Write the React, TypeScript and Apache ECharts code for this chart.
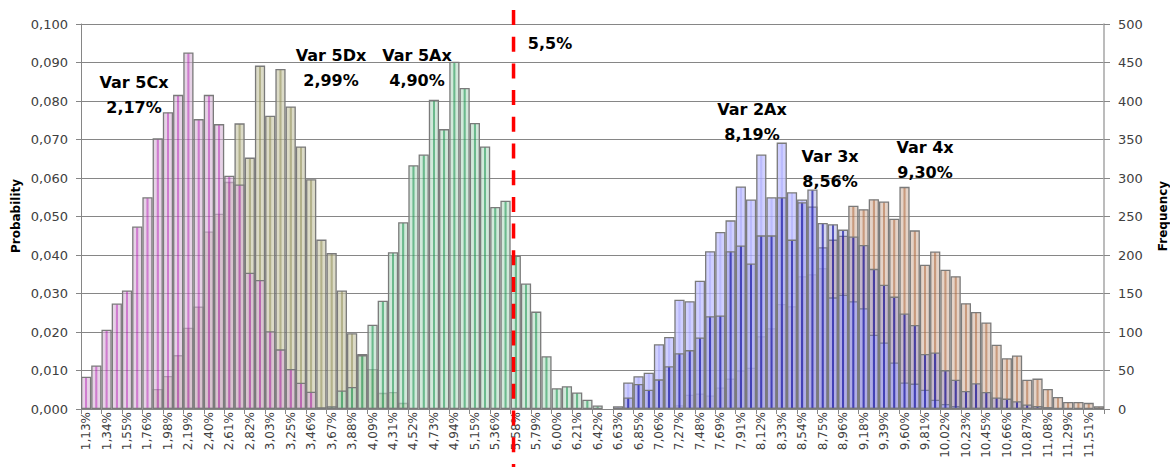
import { useEffect, useRef } from 'react';
import * as echarts from 'echarts';

// Bin labels (x axis categories)
const CATEGORIES = [
  '1,13%', '1,24%', '1,34%', '1,45%', '1,55%', '1,66%', '1,76%', '1,87%', '1,98%', '2,08%',
  '2,19%', '2,29%', '2,40%', '2,50%', '2,61%', '2,72%', '2,82%', '2,93%', '3,03%', '3,14%',
  '3,25%', '3,35%', '3,46%', '3,56%', '3,67%', '3,78%', '3,88%', '3,99%', '4,09%', '4,20%',
  '4,31%', '4,41%', '4,52%', '4,62%', '4,73%', '4,84%', '4,94%', '5,05%', '5,15%', '5,26%',
  '5,36%', '5,47%', '5,58%', '5,68%', '5,79%', '5,89%', '6,00%', '6,11%', '6,21%', '6,32%',
  '6,42%', '6,53%', '6,63%', '6,74%', '6,85%', '6,95%', '7,06%', '7,17%', '7,27%', '7,38%',
  '7,48%', '7,59%', '7,69%', '7,80%', '7,91%', '8,01%', '8,12%', '8,22%', '8,33%', '8,43%',
  '8,54%', '8,65%', '8,75%', '8,86%', '8,96%', '9,07%', '9,18%', '9,28%', '9,39%', '9,49%',
  '9,60%', '9,71%', '9,81%', '9,92%', '10,02%', '10,13%', '10,23%', '10,34%', '10,45%', '10,55%',
  '10,66%', '10,76%', '10,87%', '10,98%', '11,08%', '11,19%', '11,29%', '11,40%', '11,51%', '11,61%',
];

// Probability per bin, each series starts at the given category index
const VAR_5CX_START = 0;
const VAR_5CX = [
  0.0084, 0.0113, 0.0206, 0.0274, 0.0308, 0.0474, 0.0550, 0.0703, 0.0771, 0.0816,
  0.0926, 0.0753, 0.0816, 0.0740, 0.0606, 0.0583, 0.0354, 0.0335, 0.0202, 0.0155,
  0.0104, 0.0068, 0.0045, 0.0004,
];

const VAR_5DX_START = 7;
const VAR_5DX = [
  0.0052, 0.0086, 0.0140, 0.0211, 0.0266, 0.0461, 0.0507, 0.0590, 0.0742, 0.0653,
  0.0892, 0.0762, 0.0883, 0.0786, 0.0682, 0.0597, 0.0440, 0.0405, 0.0308, 0.0197,
  0.0143, 0.0104, 0.0042, 0.0044, 0.0016,
];

const VAR_5AX_START = 23;
const VAR_5AX = [
  0.0003, 0.0007, 0.0048, 0.0057, 0.0140, 0.0219, 0.0281, 0.0407, 0.0485, 0.0633,
  0.0661, 0.0803, 0.0727, 0.0902, 0.0834, 0.0743, 0.0682, 0.0525, 0.0541, 0.0398,
  0.0326, 0.0253, 0.0137, 0.0054, 0.0059, 0.0043, 0.0024, 0.0009,
];

const VAR_2AX_START = 52;
const VAR_2AX = [
  0.0007, 0.0069, 0.0085, 0.0094, 0.0168, 0.0187, 0.0284, 0.0280, 0.0333, 0.0410,
  0.0460, 0.0490, 0.0578, 0.0544, 0.0661, 0.0550, 0.0692, 0.0563, 0.0544, 0.0526,
  0.0420, 0.0290, 0.0297, 0.0280, 0.0262, 0.0193, 0.0173, 0.0121, 0.0069, 0.0066,
  0.0050, 0.0024, 0.0013, 0.0008,
];

const VAR_3X_START = 53;
const VAR_3X = [
  0.0030, 0.0065, 0.0050, 0.0077, 0.0111, 0.0145, 0.0153, 0.0186, 0.0241, 0.0243,
  0.0410, 0.0425, 0.0378, 0.0451, 0.0451, 0.0550, 0.0440, 0.0537, 0.0570, 0.0483,
  0.0480, 0.0466, 0.0448, 0.0426, 0.0364, 0.0323, 0.0292, 0.0248, 0.0218, 0.0143,
  0.0147, 0.0101, 0.0076, 0.0047, 0.0067, 0.0044, 0.0030, 0.0027, 0.0020, 0.0012,
  0.0008, 0.0005,
];

const VAR_4X_START = 58;
const VAR_4X = [
  0.0010, 0.0037, 0.0040, 0.0035, 0.0056, 0.0079, 0.0100, 0.0107, 0.0189, 0.0210,
  0.0273, 0.0267, 0.0345, 0.0350, 0.0366, 0.0440, 0.0450, 0.0528, 0.0519, 0.0545,
  0.0539, 0.0494, 0.0577, 0.0464, 0.0375, 0.0409, 0.0362, 0.0345, 0.0275, 0.0252,
  0.0225, 0.0167, 0.0132, 0.0139, 0.0076, 0.0079, 0.0052, 0.0031, 0.0018, 0.0018,
  0.0016, 0.0007,
];

// Annotation texts (name, mean)
const ANNOTATIONS = [
  { name: 'Var 5Cx', mean: '2,17%' },
  { name: 'Var 5Dx', mean: '2,99%' },
  { name: 'Var 5Ax', mean: '4,90%' },
  { name: 'Var 2Ax', mean: '8,19%' },
  { name: 'Var 3x', mean: '8,56%' },
  { name: 'Var 4x', mean: '9,30%' },
];
const ANNOTATION_POS = [
  [134, 94.5], [331, 67.5], [417, 67.5], [752, 122], [830, 169], [925, 159.5],
];

// Threshold and bin geometry (percent)
const THRESHOLD = 5.5;
const THRESHOLD_LABEL = '5,5%';
const FIRST_BIN_UPPER = 1.1283;
const BIN_WIDTH = 0.1059;

const FONT = '"DejaVu Sans", sans-serif';

type RGB = [number, number, number];
type Sty = { base: RGB; stripe: RGB; ba: number; sa: number };

const STY_5CX: Sty = { base: [214, 180, 214], stripe: [190, 80, 190], ba: 0.6, sa: 0.75 };
const STY_5DX: Sty = { base: [200, 199, 168], stripe: [160, 158, 110], ba: 0.65, sa: 0.8 };
const STY_5AX: Sty = { base: [180, 218, 195], stripe: [70, 168, 112], ba: 0.6, sa: 0.8 };
const STY_2AX: Sty = { base: [192, 192, 255], stripe: [170, 170, 252], ba: 0.75, sa: 0.8 };
const STY_3X: Sty = { base: [118, 118, 205], stripe: [40, 40, 170], ba: 0.3, sa: 0.8 };
const STY_4X: Sty = { base: [212, 184, 166], stripe: [186, 128, 92], ba: 0.62, sa: 0.8 };

function spread(start: number, values: number[]) {
  const arr: (number | null)[] = new Array(CATEGORIES.length).fill(null);
  values.forEach((v, k) => {
    arr[start + k] = v;
  });
  return arr;
}

function fill(s: Sty) {
  const b = `rgba(${s.base.join(',')},${s.ba})`;
  const st = `rgba(${s.stripe.join(',')},${s.sa})`;
  return new echarts.graphic.LinearGradient(0, 0, 1, 0, [
    { offset: 0, color: b },
    { offset: 0.34, color: b },
    { offset: 0.42, color: st },
    { offset: 0.58, color: st },
    { offset: 0.66, color: b },
    { offset: 1, color: b },
  ]);
}

export default function App() {
  const ref = useRef<HTMLDivElement>(null);

  useEffect(() => {
    if (!ref.current) return;
    const chart = echarts.init(ref.current, null, { renderer: 'svg' });

    // drawing order (later on top)
    const defs = [
      { name: 'Var 5Dx', data: spread(VAR_5DX_START, VAR_5DX), sty: STY_5DX },
      { name: 'Var 5Cx', data: spread(VAR_5CX_START, VAR_5CX), sty: STY_5CX },
      { name: 'Var 5Ax', data: spread(VAR_5AX_START, VAR_5AX), sty: STY_5AX },
      { name: 'Var 4x', data: spread(VAR_4X_START, VAR_4X), sty: STY_4X },
      { name: 'Var 2Ax', data: spread(VAR_2AX_START, VAR_2AX), sty: STY_2AX },
      { name: 'Var 3x', data: spread(VAR_3X_START, VAR_3X), sty: STY_3X },
    ];
    const axisGray = '#868686';
    const labelColor = '#404040';

    chart.setOption({
      animation: false,
      grid: { left: 81, right: 66, top: 24, bottom: 58, containLabel: false },
      xAxis: [
        {
          type: 'category',
          data: CATEGORIES,
          boundaryGap: true,
          axisLine: { show: true, lineStyle: { color: axisGray, width: 1 } },
          axisTick: { show: true, interval: 1, length: 5, lineStyle: { color: axisGray } },
          axisLabel: {
            interval: 1,
            rotate: 90,
            margin: 3,
            fontSize: 12,
            color: labelColor,
            fontFamily: FONT,
          },
          splitLine: { show: false },
        },
        {
          type: 'value',
          show: false,
          min: FIRST_BIN_UPPER - BIN_WIDTH,
          max: FIRST_BIN_UPPER + (CATEGORIES.length - 1) * BIN_WIDTH,
        },
      ],
      yAxis: [
        {
          type: 'value',
          min: 0,
          max: 0.1,
          interval: 0.01,
          position: 'left',
          axisLine: { show: true, lineStyle: { color: axisGray } },
          axisTick: { show: true, length: 5, lineStyle: { color: axisGray } },
          axisLabel: {
            margin: 13,
            fontSize: 13,
            color: labelColor,
            fontFamily: FONT,
            formatter: (v: number) => v.toFixed(3).replace('.', ','),
          },
          splitLine: { show: true, lineStyle: { color: axisGray, width: 1 } },
        },
        {
          type: 'value',
          min: 0,
          max: 500,
          interval: 50,
          position: 'right',
          axisLine: { show: true, lineStyle: { color: '#a6a6a6', width: 1.5 } },
          axisTick: { show: true, length: 6, lineStyle: { color: axisGray } },
          axisLabel: { margin: 14, fontSize: 13, color: labelColor, fontFamily: FONT },
          splitLine: { show: false },
        },
      ],
      series: defs.map((d) => ({
        name: d.name,
        type: 'bar',
        xAxisIndex: 0,
        yAxisIndex: 0,
        data: d.data,
        barGap: '-100%',
        barCategoryGap: '0%',
        itemStyle: {
          color: fill(d.sty),
          borderColor: '#7a7a7a',
          borderWidth: 1.3,
        },
        emphasis: { disabled: true },
      })),
    });

    let tx = chart.convertToPixel({ xAxisIndex: 1 }, THRESHOLD) as number;
    if (!Number.isFinite(tx)) {
      tx = 81 + ((THRESHOLD - (FIRST_BIN_UPPER - BIN_WIDTH)) / (CATEGORIES.length * BIN_WIDTH)) * 1023;
    }

    const textEls = ANNOTATIONS.map((a, i) => ({
      type: 'text',
      x: ANNOTATION_POS[i][0],
      y: ANNOTATION_POS[i][1],
      z: 100,
      style: {
        text: `${a.name}\n${a.mean}`,
        fill: '#000',
        font: `bold 16px ${FONT}`,
        lineHeight: 25,
        textAlign: 'center',
        textVerticalAlign: 'middle',
      },
    }));

    chart.setOption({
      graphic: [
        ...textEls,
        {
          type: 'line',
          z: 90,
          shape: { x1: tx, y1: 10, x2: tx, y2: 467 },
          style: { stroke: '#ff0000', lineWidth: 3.5, lineDash: [15, 11.7] },
        },
        {
          type: 'text',
          x: 550,
          y: 43,
          z: 100,
          style: {
            text: THRESHOLD_LABEL,
            fill: '#000',
            font: `bold 16px ${FONT}`,
            textAlign: 'center',
            textVerticalAlign: 'middle',
          },
        },
        {
          type: 'text',
          x: 16,
          y: 216,
          rotation: Math.PI / 2,
          style: {
            text: 'Probability',
            fill: '#000',
            font: `bold 12px ${FONT}`,
            textAlign: 'center',
            textVerticalAlign: 'middle',
          },
        },
        {
          type: 'text',
          x: 1163,
          y: 216,
          rotation: Math.PI / 2,
          style: {
            text: 'Frequency',
            fill: '#000',
            font: `bold 12px ${FONT}`,
            textAlign: 'center',
            textVerticalAlign: 'middle',
          },
        },
      ],
    });

    return () => chart.dispose();
  }, []);

  return (
    <div
      ref={ref}
      style={{ position: 'fixed', left: 0, top: 0, width: 1170, height: 467, background: '#fff' }}
    />
  );
}
